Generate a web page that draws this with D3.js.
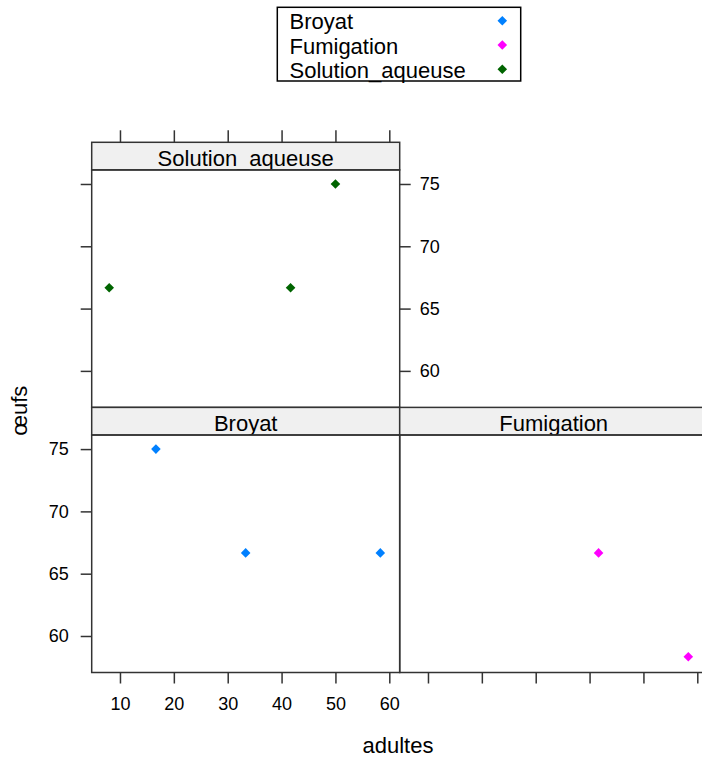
<!DOCTYPE html>
<html>
<head>
<meta charset="utf-8">
<script src="https://cdn.jsdelivr.net/npm/d3@7"></script>
<style>
  body { margin: 0; background: #fff; }
  text { font-family: "Liberation Sans", Arial, sans-serif; fill: #000; }
</style>
</head>
<body>
<div id="graph"></div>
<script>
// -- data
const groups = ['Broyat', 'Fumigation', 'Solution_aqueuse'];
const groupColors = ['#0080ff', '#ff00ff', '#006400'];
const broyatX = [16.67, 33.33, 58.33];
const broyatY = [75, 66.67, 66.67];
const fumigationX = [41.67, 58.33];
const fumigationY = [66.67, 58.33];
const solutionX = [8, 41.67, 50];
const solutionY = [66.67, 66.67, 75];
const xTicks = [10, 20, 30, 40, 50, 60];
const yTicks = [60, 65, 70, 75];
const xTitle = 'adultes';
const yTitle = 'œufs';

let W = 702, H = 759;

let svg = d3.select('#graph')
  .append('svg')
    .attr('width', W)
    .attr('height', H);

let appendGroupTo = (name, appendTo) => {
  return appendTo
    .append('g')
      .attr('id', name)
}

// panel geometry (lattice style: 2 columns x 2 rows, bottom row first)
const left = 91.7, panelW = 308;
const top0 = 142.3, stripH = 27.6, panelH = 237.5;
const tickLen = 11;

let xScale = d3.scaleLinear().domain([4.75, 61.93]).range([0, panelW]);
let yScale = d3.scaleLinear().domain([57.07, 76.13]).range([panelH, 0]);

// which panel sits where, and which sides get ticks / labels
const panels = [
  {name: 'Solution_aqueuse', label: 'Solution_aqueuse', col: 0, row: 0, xs: solutionX, ys: solutionY, color: groupColors[2],
   axes: {top: 'ticks', left: 'ticks', right: 'labels'}},
  {name: 'Broyat', label: 'Broyat', col: 0, row: 1, xs: broyatX, ys: broyatY, color: groupColors[0],
   axes: {bottom: 'labels', left: 'labels'}},
  {name: 'Fumigation', label: 'Fumigation', col: 1, row: 1, xs: fumigationX, ys: fumigationY, color: groupColors[1],
   axes: {bottom: 'ticks'}}
];

let diamond = d3.symbol(d3.symbolSquare, 46);
let lineCol = '#333';

let defs = svg.append('defs');

panels.forEach((p, i) => {
  let x0 = left + p.col * panelW;
  let y0 = top0 + p.row * (stripH + panelH);
  let g = appendGroupTo('panel-' + p.name, svg)
    .attr('transform', `translate(${x0}, ${y0})`);

  // strip
  defs.append('clipPath').attr('id', 'clip' + i)
    .append('rect').attr('x', 0).attr('y', 0).attr('width', panelW).attr('height', stripH);
  g.append('rect')
    .attr('width', panelW).attr('height', stripH)
    .attr('fill', '#f0f0f0').attr('stroke', lineCol).attr('stroke-width', 1.5);
  g.append('text')
    .attr('clip-path', `url(#clip${i})`)
    .attr('x', panelW / 2).attr('y', stripH - 4)
    .attr('text-anchor', 'middle')
    .style('font-size', '22px')
    .text(p.label);

  // panel body
  let body = g.append('g').attr('transform', `translate(0, ${stripH})`);
  body.append('rect')
    .attr('width', panelW).attr('height', panelH)
    .attr('fill', 'none').attr('stroke', lineCol).attr('stroke-width', 1.5);

  body.selectAll('path.pt')
    .data(p.xs.map((d, j) => [d, p.ys[j]]))
    .enter()
    .append('path')
      .attr('class', 'pt')
      .attr('d', diamond)
      .attr('transform', d => `translate(${xScale(d[0])}, ${yScale(d[1])}) rotate(45)`)
      .attr('fill', p.color);

  // axes
  let ax = p.axes;
  if (ax.bottom) {
    let a = d3.axisBottom(xScale).tickValues(xTicks).tickSize(tickLen).tickPadding(14)
      .tickFormat(ax.bottom === 'labels' ? d3.format('d') : '');
    body.append('g').attr('class', 'axis').attr('transform', `translate(0, ${panelH})`).call(a);
  }
  if (ax.top) {
    let a = d3.axisTop(xScale).tickValues(xTicks).tickSize(tickLen + 1).tickFormat('');
    g.append('g').attr('class', 'axis').call(a);
  }
  if (ax.left) {
    let a = d3.axisLeft(yScale).tickValues(yTicks).tickSize(tickLen).tickPadding(12)
      .tickFormat(ax.left === 'labels' ? d3.format('d') : '');
    body.append('g').attr('class', 'axis').call(a);
  }
  if (ax.right) {
    let a = d3.axisRight(yScale).tickValues(yTicks).tickSize(tickLen).tickPadding(9)
      .tickFormat(ax.right === 'labels' ? d3.format('d') : '');
    body.append('g').attr('class', 'axis').attr('transform', `translate(${panelW}, 0)`).call(a);
  }
});

// axis styling like lattice: no domain line, grey ticks
svg.selectAll('.axis .domain').remove();
svg.selectAll('.axis .tick line').attr('stroke', lineCol).attr('stroke-width', 1.5);
svg.selectAll('.axis text')
  .style('font-family', '"Liberation Sans", Arial, sans-serif')
  .style('font-size', '18px')
  .attr('fill', '#000');

// axis titles
svg.append('text')
  .attr('x', 398).attr('y', 753)
  .attr('text-anchor', 'middle')
  .style('font-size', '22px')
  .text(xTitle);
svg.append('text')
  .attr('transform', 'translate(26.7, 410.8) rotate(-90)')
  .attr('text-anchor', 'middle')
  .style('font-size', '22px')
  .text(yTitle);

// legend
let legend = appendGroupTo('legend', svg);
legend.append('rect')
  .attr('x', 277.3).attr('y', 7.3)
  .attr('width', 243.4).attr('height', 73.7)
  .attr('fill', '#fff').attr('stroke', '#000').attr('stroke-width', 1.5);
let legendY = d3.scalePoint().domain(groups).range([29.3, 77.7]);
legend.selectAll('text.lab')
  .data(groups)
  .enter()
  .append('text')
    .attr('class', 'lab')
    .attr('x', 289.5)
    .attr('y', d => legendY(d))
    .style('font-size', '22px')
    .text(d => d);
legend.selectAll('path.key')
  .data(groups)
  .enter()
  .append('path')
    .attr('class', 'key')
    .attr('d', diamond)
    .attr('transform', d => `translate(502.3, ${legendY(d) - 8.5}) rotate(45)`)
    .attr('fill', (d, i) => groupColors[i]);
</script>
</body>
</html>
